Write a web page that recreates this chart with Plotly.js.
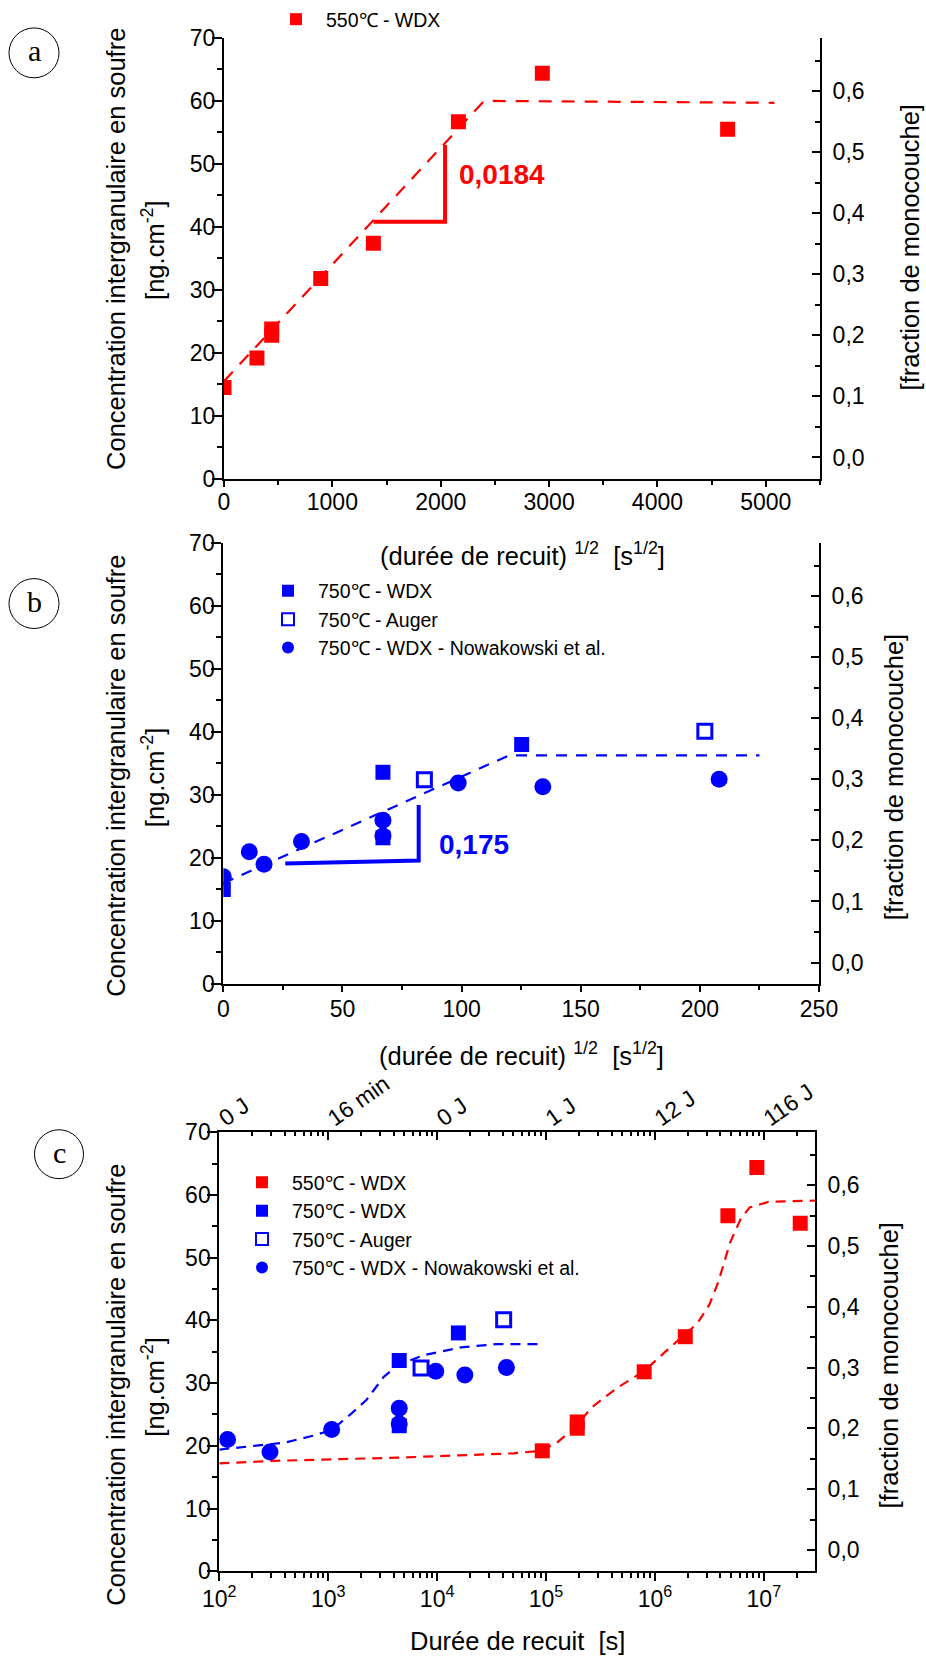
<!DOCTYPE html>
<html><head><meta charset="utf-8">
<script src="https://cdn.plot.ly/plotly-3.0.1.min.js"></script>
<style>html,body{margin:0;padding:0;background:#fff}#chart{width:926px;height:1658px}</style>
</head><body><div id="chart"></div>
<script>
// ---------- data (durations in s, concentrations in ng.cm-2) ----------
const t550 = [0, 92400, 193600, 193600, 797000, 1900000, 4680000, 8630000, 21600000];
const c550 = [14.5, 19.2, 23.8, 22.8, 31.8, 37.4, 56.7, 64.4, 55.5];
const t750wdx = [0, 4489, 4489, 15680];
const c750wdx = [15.0, 33.6, 23.2, 38.0];
const t750auger = [7120, 40840];
const c750auger = [32.4, 40.1];
const t750nowa = [0, 119, 292, 1076, 4489, 4489, 9720, 17980, 43300];
const c750nowa = [17.0, 21.0, 19.0, 22.6, 26.0, 23.5, 31.9, 31.3, 32.5];

// fits / guides in panel a (x = sqrt(t))
const fitA_x = [0, 2400, 5080];
const fitA_y = [15.5, 60.0, 59.7];
const slopeA_x = [1380, 2040, 2040];
const slopeA_y = [40.8, 40.8, 53.0];
// panel b
const fitB_x = [0, 120, 225];
const fitB_y = [16.0, 36.3, 36.3];
const slopeB_x = [26, 82, 82];
const slopeB_y = [19.1, 19.6, 28.4];
// panel c curves
const fitC550_t = [100, 316, 4270, 50100, 89100, 126000, 195000, 257000, 447000, 794000, 1380000, 1860000, 2450000, 3160000, 3800000, 4900000, 6170000, 7410000, 11000000, 29500000];
const fitC550_c = [17.2, 17.6, 18.1, 18.8, 19.2, 20.5, 23.3, 26.0, 29.2, 31.9, 35.7, 37.6, 39.5, 42.5, 46.0, 52.4, 56.3, 58.0, 58.9, 59.1];
const fitC750_t = [100, 200, 400, 720, 1070, 1550, 2240, 3240, 4470, 7760, 16600, 34700, 93300];
const fitC750_c = [19.4, 19.9, 20.5, 21.6, 22.5, 24.8, 27.3, 31.0, 33.0, 34.5, 35.7, 36.2, 36.2];

// tick labels
const ticksA = [0, 1000, 2000, 3000, 4000, 5000];
const ticksAText = ['0', '1000', '2000', '3000', '4000', '5000'];
const ticksB = [0, 50, 100, 150, 200, 250];
const ticksBText = ['0', '50', '100', '150', '200', '250'];
const ticksC = [1e2, 1e3, 1e4, 1e5, 1e6, 1e7];
const ticksCText = ['10<sup>2</sup>', '10<sup>3</sup>', '10<sup>4</sup>', '10<sup>5</sup>', '10<sup>6</sup>', '10<sup>7</sup>'];
const ticksCTopText = ['0 J', '16 min', '0 J', '1 J', '12 J', '116 J'];
const monoTicks = [0, 0.1, 0.2, 0.3, 0.4, 0.5, 0.6];
const monoText = ['0,0', '0,1', '0,2', '0,3', '0,4', '0,5', '0,6'];

const names = ['550\u2103 - WDX', '750\u2103 - WDX', '750\u2103 - Auger', '750\u2103 - WDX - Nowakowski et al.'];
const slopeTextA = '0,0184';
const slopeTextB = '0,175';

// ---------- helpers ----------
const W = 926, H = 1658;
const px = x => x / W;
const py = y => 1 - y / H;
const sqrt = a => a.map(v => Math.sqrt(v));
const RED = '#ff0000', BLUE = '#0000ff';
const FONT = 'Liberation Sans, Arial, sans-serif';

// minor ticks for log axes (2..9 per decade)
const logMinor = [];
for (let e = 2; e <= 7; e++) for (let k = 2; k <= 9; k++) logMinor.push(k * Math.pow(10, e));

const traces = [];
// empty carriers so that the secondary axes get drawn
[['x', 'y2'], ['x2', 'y4'], ['x3', 'y6'], ['x4', 'y5']].forEach(([xa, ya]) => {
  traces.push({x: [null], y: [null], xaxis: xa, yaxis: ya, mode: 'markers', showlegend: false, hoverinfo: 'skip'});
});
// ---- panel a ----
traces.push({x: fitA_x, y: fitA_y, xaxis: 'x', yaxis: 'y', mode: 'lines', showlegend: false,
  line: {color: RED, width: 2.2, dash: '13px,10px'}, hoverinfo: 'skip'});
traces.push({x: slopeA_x, y: slopeA_y, xaxis: 'x', yaxis: 'y', mode: 'lines', showlegend: false,
  line: {color: RED, width: 4}, hoverinfo: 'skip'});
traces.push({x: sqrt(t550), y: c550, xaxis: 'x', yaxis: 'y', mode: 'markers', name: names[0], legend: 'legend',
  marker: {symbol: 'square', size: 15, color: RED}});
// ---- panel b ----
traces.push({x: fitB_x, y: fitB_y, xaxis: 'x2', yaxis: 'y3', mode: 'lines', showlegend: false,
  line: {color: BLUE, width: 2.2, dash: '11px,9px'}, hoverinfo: 'skip'});
traces.push({x: slopeB_x, y: slopeB_y, xaxis: 'x2', yaxis: 'y3', mode: 'lines', showlegend: false,
  line: {color: BLUE, width: 4}, hoverinfo: 'skip'});
traces.push({x: sqrt(t750wdx), y: c750wdx, xaxis: 'x2', yaxis: 'y3', mode: 'markers', name: names[1], legend: 'legend2',
  marker: {symbol: 'square', size: 15, color: BLUE}});
traces.push({x: sqrt(t750auger), y: c750auger, xaxis: 'x2', yaxis: 'y3', mode: 'markers', name: names[2], legend: 'legend2',
  marker: {symbol: 'square-open', size: 14, color: BLUE, line: {width: 3, color: BLUE}}});
traces.push({x: sqrt(t750nowa), y: c750nowa, xaxis: 'x2', yaxis: 'y3', mode: 'markers', name: names[3], legend: 'legend2',
  marker: {symbol: 'circle', size: 17, color: BLUE}});
// ---- panel c ----
traces.push({x: fitC550_t, y: fitC550_c, xaxis: 'x3', yaxis: 'y5', mode: 'lines', showlegend: false,
  line: {color: RED, width: 2.2, dash: '10px,7px'}, hoverinfo: 'skip'});
traces.push({x: fitC750_t, y: fitC750_c, xaxis: 'x3', yaxis: 'y5', mode: 'lines', showlegend: false,
  line: {color: BLUE, width: 2.2, dash: '10px,7px'}, hoverinfo: 'skip'});
traces.push({x: t550, y: c550, xaxis: 'x3', yaxis: 'y5', mode: 'markers', name: names[0], legend: 'legend3',
  marker: {symbol: 'square', size: 15, color: RED}});
traces.push({x: t750wdx, y: c750wdx, xaxis: 'x3', yaxis: 'y5', mode: 'markers', name: names[1], legend: 'legend3',
  marker: {symbol: 'square', size: 15, color: BLUE}});
traces.push({x: t750auger, y: c750auger, xaxis: 'x3', yaxis: 'y5', mode: 'markers', name: names[2], legend: 'legend3',
  marker: {symbol: 'square-open', size: 14, color: BLUE, line: {width: 3, color: BLUE}}});
traces.push({x: t750nowa, y: c750nowa, xaxis: 'x3', yaxis: 'y5', mode: 'markers', name: names[3], legend: 'legend3',
  marker: {symbol: 'circle', size: 17, color: BLUE}});

const tickFont = {family: FONT, size: 23, color: 'black'};
const baseAx = {showline: true, linewidth: 2, linecolor: 'black', showgrid: false, zeroline: false,
  tickwidth: 2, tickcolor: 'black', tickfont: tickFont, fixedrange: true};
function leftY(dom, anchor) {
  return Object.assign({}, baseAx, {domain: dom, anchor: anchor, range: [0, 70], tickmode: 'linear', tick0: 0, dtick: 10,
    ticks: 'outside', ticklen: 10, ticklabelstandoff: -8,
    minor: {tickmode: 'linear', tick0: 0, dtick: 5, ticks: 'outside', ticklen: 5, tickwidth: 2, tickcolor: 'black'}});
}
function rightY(over, anchor) {
  return Object.assign({}, baseAx, {overlaying: over, anchor: anchor, side: 'right', range: [-0.035, 0.687],
    tickmode: 'array', tickvals: monoTicks, ticktext: monoText, ticks: 'inside', ticklen: 8, ticklabelstandoff: 6,
    minor: {tickmode: 'linear', tick0: 0, dtick: 0.05, ticks: 'inside', ticklen: 5, tickwidth: 2, tickcolor: 'black'}});
}

const legendFont = {family: FONT, size: 19.5, color: 'black'};
const legendBase = {font: legendFont, bgcolor: 'rgba(0,0,0,0)', borderwidth: 0, itemsizing: 'constant',
  itemwidth: 50, xanchor: 'left', yanchor: 'top', tracegroupgap: 0};

const layout = {
  width: W, height: H, margin: {l: 0, r: 0, t: 0, b: 0},
  paper_bgcolor: 'white', plot_bgcolor: 'rgba(0,0,0,0)', showlegend: true,
  xaxis: Object.assign({}, baseAx, {domain: [px(224), px(820)], anchor: 'y', range: [0, 5500],
    tickmode: 'array', tickvals: ticksA, ticktext: ticksAText, ticks: 'outside', ticklen: 6, ticklabelstandoff: -4,
    minor: {tickmode: 'linear', tick0: 0, dtick: 500, ticks: 'outside', ticklen: 4, tickwidth: 2, tickcolor: 'black'}}),
  yaxis: leftY([py(476), py(34)], 'x'),
  yaxis2: rightY('y', 'x'),
  xaxis2: Object.assign({}, baseAx, {domain: [px(223.3), px(819)], anchor: 'y3', range: [0, 250],
    tickmode: 'array', tickvals: ticksB, ticktext: ticksBText, ticks: 'outside', ticklen: 6, ticklabelstandoff: -3,
    minor: {tickmode: 'linear', tick0: 0, dtick: 25, ticks: 'outside', ticklen: 4, tickwidth: 2, tickcolor: 'black'}}),
  yaxis3: leftY([py(982.3), py(540.3)], 'x2'),
  yaxis4: rightY('y3', 'x2'),
  xaxis3: Object.assign({}, baseAx, {domain: [px(219.3), px(815)], anchor: 'y5', type: 'log', range: [2, 7.47],
    tickmode: 'array', tickvals: ticksC, ticktext: ticksCText, ticks: 'outside', ticklen: 8, ticklabelstandoff: -2,
    minor: {tickmode: 'array', tickvals: logMinor, ticks: 'outside', ticklen: 5, tickwidth: 2, tickcolor: 'black'}}),
  xaxis4: Object.assign({}, baseAx, {overlaying: 'x3', anchor: 'y5', side: 'top', type: 'log', range: [2, 7.47],
    tickmode: 'array', tickvals: ticksC, ticktext: ticksCTopText, ticks: 'inside', ticklen: 8, tickangle: -35,
    ticklabelstandoff: -8,
    minor: {tickmode: 'array', tickvals: logMinor, ticks: 'inside', ticklen: 4, tickwidth: 2, tickcolor: 'black'}}),
  yaxis5: leftY([py(1571), py(1131)], 'x3'),
  yaxis6: rightY('y5', 'x3'),
  legend: Object.assign({}, legendBase, {x: px(266), y: py(-4)}),
  legend2: Object.assign({}, legendBase, {x: px(258), y: py(569)}),
  legend3: Object.assign({}, legendBase, {x: px(232), y: py(1162)}),
  annotations: [],
  shapes: []
};

const titleFont = {family: FONT, size: 25.5, color: 'black'};
function ann(text, x, y, extra) {
  layout.annotations.push(Object.assign({text: text, xref: 'paper', yref: 'paper', x: px(x), y: py(y),
    showarrow: false, xanchor: 'center', yanchor: 'middle', font: titleFont}, extra || {}));
}
const yTitle1 = 'Concentration intergranulaire en soufre';
const yTitle2 = '[ng.cm<sup>-2</sup>]';
const yTitleR = '[fraction de monocouche]';
const xTitleAB = '(durée de recuit) <sup>1/2</sup>&nbsp; [s<sup>1/2</sup>]';
const xTitleC = 'Durée de recuit&nbsp; [s]';

// panel a
ann(yTitle1, 116, 245.5, {textangle: -90});
ann(yTitle2, 153, 246.5, {textangle: -90});
ann(yTitleR, 910, 244, {textangle: -90});
ann(xTitleAB, 522, 551);
// panel b
ann(yTitle1, 116.6, 774, {textangle: -90});
ann(yTitle2, 153, 775, {textangle: -90});
ann(yTitleR, 894, 775, {textangle: -90});
ann(xTitleAB, 521, 1053);
// panel c
ann(yTitle1, 116.6, 1384.5, {textangle: -90});
ann(yTitle2, 153, 1386, {textangle: -90});
ann(yTitleR, 889, 1364.7, {textangle: -90});
ann(xTitleC, 517.5, 1641);

// slope labels (data coordinates)
layout.annotations.push({text: '<b>' + slopeTextA + '</b>', xref: 'x', yref: 'y', x: 2150, y: 48.3, showarrow: false,
  xanchor: 'left', yanchor: 'middle', font: {family: FONT, size: 28, color: RED}});
layout.annotations.push({text: '<b>' + slopeTextB + '</b>', xref: 'x2', yref: 'y3', x: 89.7, y: 22.1, showarrow: false,
  xanchor: 'left', yanchor: 'middle', font: {family: FONT, size: 28, color: BLUE}});

// panel letters in circles
const serif = {family: 'Liberation Serif, Times New Roman, serif', size: 30, color: 'black'};
[['a', 34, 49, 25], ['b', 34, 601, 25], ['c', 59, 1153, 24.5]].forEach(([l, cx, cy, r]) => {
  layout.shapes.push({type: 'circle', xref: 'paper', yref: 'paper', x0: px(cx - r), x1: px(cx + r),
    y0: py(cy + r), y1: py(cy - r), line: {color: 'black', width: 1}});
  ann(l, cx, cy - 2, {font: serif});
});

Plotly.newPlot('chart', traces, layout, {staticPlot: true, displayModeBar: false});
</script></body></html>
